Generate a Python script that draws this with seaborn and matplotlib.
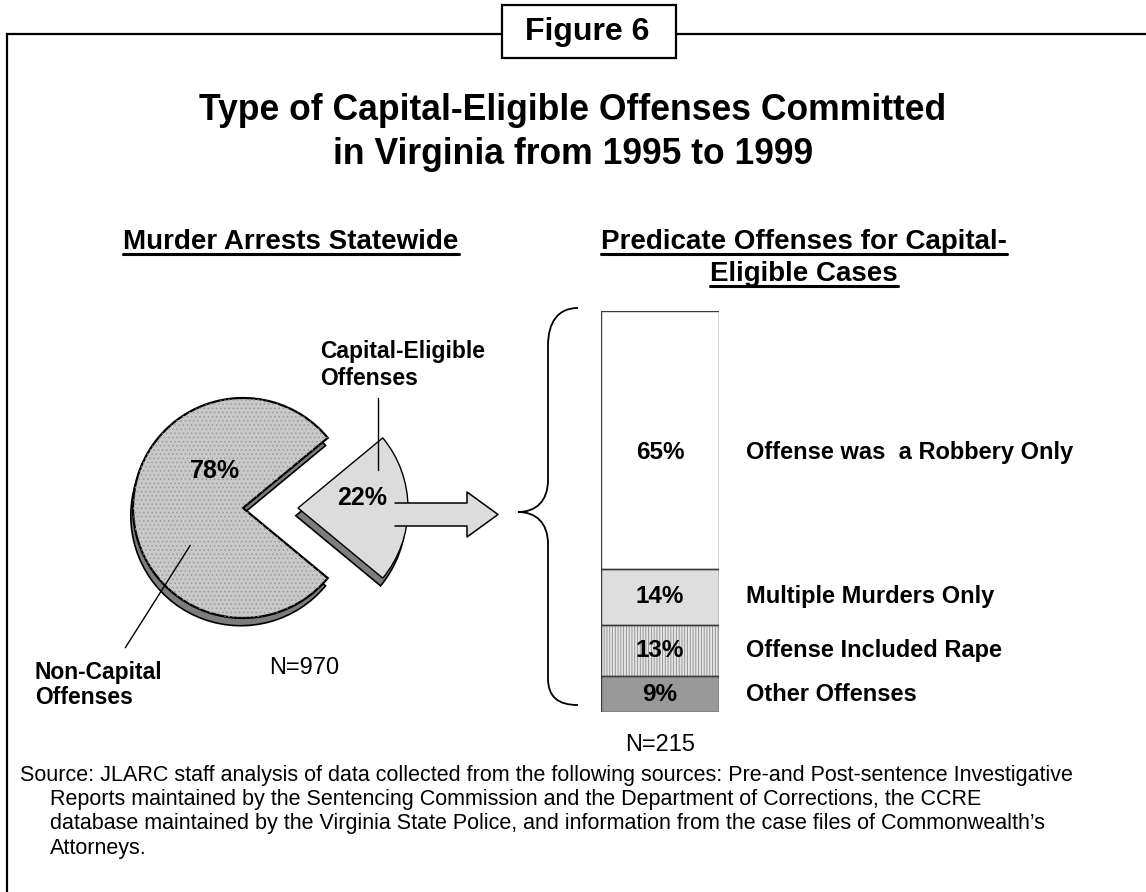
import numpy as np
import matplotlib
matplotlib.use("Agg")
import matplotlib.pyplot as plt
from matplotlib.patches import Rectangle, Polygon, PathPatch
from matplotlib.path import Path
import seaborn as sns

sns.set_theme(style="white")
plt.rcParams["font.family"] = ["Liberation Sans", "DejaVu Sans"]
plt.rcParams["text.color"] = "black"
plt.rcParams["hatch.linewidth"] = 0.6

# ── data ─────────────────────────────────────────────────────
FIG_LABEL = "Figure 6"
TITLE = ["Type of Capital-Eligible Offenses Committed", "in Virginia from 1995 to 1999"]
LEFT_HEAD = ["Murder Arrests Statewide"]
RIGHT_HEAD = ["Predicate Offenses for Capital-", "Eligible Cases"]

PIE_LABELS = ["Capital-Eligible\nOffenses", "Non-Capital\nOffenses"]
PIE_PCT = [22, 78]
N_ARRESTS = 970

SEG_LABELS = ["Offense was  a Robbery Only", "Multiple Murders Only",
              "Offense Included Rape", "Other Offenses"]
SEG_PCT = [65, 14, 13, 9]
N_CASES = 215

SOURCE = [
    "Source: JLARC staff analysis of data collected from the following sources: Pre-and Post-sentence Investigative",
    "Reports maintained by the Sentencing Commission and the Department of Corrections, the CCRE",
    "database maintained by the Virginia State Police, and information from the case files of Commonwealth\u2019s",
    "Attorneys.",
]

W, H = 1146, 892
fig = plt.figure(figsize=(W / 100, H / 100), dpi=100)
fig.patch.set_facecolor("white")


def px_rect(x0, y0, x1, y1):
    return [x0 / W, 1 - y1 / H, (x1 - x0) / W, (y1 - y0) / H]


# ── pie (exploded, with a dark rim underneath) ───────────────
ax_pie = fig.add_axes(px_rect(23, 288, 463, 728))
half = PIE_PCT[0] / 100 * 180
explode = [0.5, 0]
ax_pie.pie(PIE_PCT, explode=explode, startangle=-half, center=(-0.02, -0.07),
           colors=["#7d7d7d", "#7d7d7d"],
           wedgeprops=dict(edgecolor="black", linewidth=1.2))
top, _ = ax_pie.pie(PIE_PCT, explode=explode, startangle=-half,
                    colors=["#dcdcdc", "#c9c9c9"],
                    wedgeprops=dict(edgecolor="black", linewidth=1.6))
top[0].set_linewidth(1.0)
# stipple texture on the big slice
tex, _ = ax_pie.pie(PIE_PCT, explode=explode, startangle=-half,
                    colors=["none", "none"], wedgeprops=dict(linewidth=0))
tex[0].set_visible(False)
tex[1].set_hatch("....")
tex[1].set_edgecolor("#9a9a9a")
ax_pie.set_xlim(-2, 2)
ax_pie.set_ylim(-2, 2)
ax_pie.set_aspect("equal")
ax_pie.axis("off")

ax_pie.text(-0.255, 0.336, f"{PIE_PCT[1]}%", ha="center", va="center",
            fontsize=18, fontweight="bold")
ax_pie.text(1.08, 0.09, f"{PIE_PCT[0]}%", ha="center", va="center",
            fontsize=18, fontweight="bold")
ax_pie.text(0.56, -1.45, f"N={N_ARRESTS}", ha="center", va="center", fontsize=17)
ax_pie.plot([1.23, 1.23], [1.0, 0.345], color="black", lw=1)
ax_pie.plot([-1.07, -0.48], [-1.27, -0.34], color="black", lw=1)

# ── stacked bar ──────────────────────────────────────────────
ax_bar = fig.add_axes(px_rect(601, 311, 719, 712))
pct = np.array(SEG_PCT)
tops = pct[::-1].cumsum()[::-1]
bottoms = tops - pct
fills = ["white", "#dedede", "#e4e4e4", "#999999"]
for t, c in zip(tops, fills):
    sns.barplot(x=["all"], y=[t], color=c, saturation=1, width=0.8,
                linewidth=0, ax=ax_bar)
ax_bar.patches[2].set_hatch("||||||")
ax_bar.patches[2].set_edgecolor("#8c8c8c")
ax_bar.bar(0, pct, bottom=bottoms, width=0.8, fill=False,
           edgecolor="#3a3a3a", linewidth=1)
ax_bar.set_xlim(-0.4, 0.4)
ax_bar.set_ylim(0, pct.sum())
ax_bar.axis("off")

ypos = bottoms + pct / 2
ypos[0] = bottoms[0] + pct[0] * 0.45
for p, y, lab in zip(SEG_PCT, ypos, SEG_LABELS):
    ax_bar.text(0, y, f"{p}%", ha="center", va="center", fontsize=17.5,
                fontweight="bold", clip_on=False)
    ax_bar.text(0.58, y, lab, ha="left", va="center", fontsize=17,
                fontweight="bold", clip_on=False)
ax_bar.text(0, -8.3, f"N={N_CASES}", ha="center", va="center", fontsize=17,
            clip_on=False)

# ── overlay: frame, titles, brace, arrow, notes ──────────────
ov = fig.add_axes([0, 0, 1, 1])
ov.set_xlim(0, W)
ov.set_ylim(H, 0)
ov.axis("off")
ov.patch.set_alpha(0)

ov.plot([7, 7, 502], [H, 34, 34], color="black", lw=1.6, solid_joinstyle="miter")
ov.plot([676, W], [34, 34], color="black", lw=1.6)
ov.add_patch(Rectangle((502, 5), 174, 53, facecolor="white", edgecolor="black", lw=1.6))
ov.text(587, 32, FIG_LABEL, ha="center", va="center", fontsize=23, fontweight="bold")

for i, line in enumerate(TITLE):
    ov.text(573, 110 + 45 * i, line, ha="center", va="center",
            fontsize=25.6, fontweight="bold")

heads = []
for i, line in enumerate(LEFT_HEAD):
    heads.append(ov.text(291, 242 + 32 * i, line, ha="center", va="center",
                         fontsize=20, fontweight="bold"))
for i, line in enumerate(RIGHT_HEAD):
    heads.append(ov.text(804, 242 + 32 * i, line, ha="center", va="center",
                         fontsize=20, fontweight="bold"))

ov.text(320, 365, PIE_LABELS[0], ha="left", va="center", fontsize=16.5,
        fontweight="bold", linespacing=1.25)
ov.text(35, 685, PIE_LABELS[1], ha="left", va="center", fontsize=16.5,
        fontweight="bold", linespacing=1.1)

# block arrow, open at its tail where it sits on the slice
arrow = [(395, 503), (467, 503), (467, 492), (498, 514.5),
         (467, 537), (467, 526), (395, 526)]
ov.add_patch(Polygon(arrow, closed=True, facecolor="#dcdcdc", edgecolor="none"))
ax_, ay_ = zip(*arrow)
ov.plot(ax_, ay_, color="black", lw=1.1)

# curly brace
verts = [(578, 308), (558, 308), (548, 322), (548, 346),
         (548, 480), (548, 501), (536, 512), (518, 512),
         (536, 512), (548, 523), (548, 544),
         (548, 678), (548, 697), (558, 705), (578, 705)]
codes = [Path.MOVETO, Path.CURVE4, Path.CURVE4, Path.CURVE4,
         Path.LINETO, Path.CURVE4, Path.CURVE4, Path.CURVE4,
         Path.CURVE4, Path.CURVE4, Path.CURVE4,
         Path.LINETO, Path.CURVE4, Path.CURVE4, Path.CURVE4]
ov.add_patch(PathPatch(Path(verts, codes), facecolor="none", edgecolor="black", lw=1.3))

for i, line in enumerate(SOURCE):
    ov.text(20 if i == 0 else 50, 775 + 24.5 * i, line, ha="left", va="center",
            fontsize=15.5)

# underline the two panel headings
fig.canvas.draw()
renderer = fig.canvas.get_renderer()
inv = ov.transData.inverted()
for t in heads:
    bb = t.get_window_extent(renderer)
    (x0, y0), (x1, _) = inv.transform([[bb.x0, bb.y0], [bb.x1, bb.y0]])
    ov.plot([x0, x1], [y0 - 1, y0 - 1], color="black", lw=2.2)

fig.savefig("out.png", dpi=100, facecolor="white")
